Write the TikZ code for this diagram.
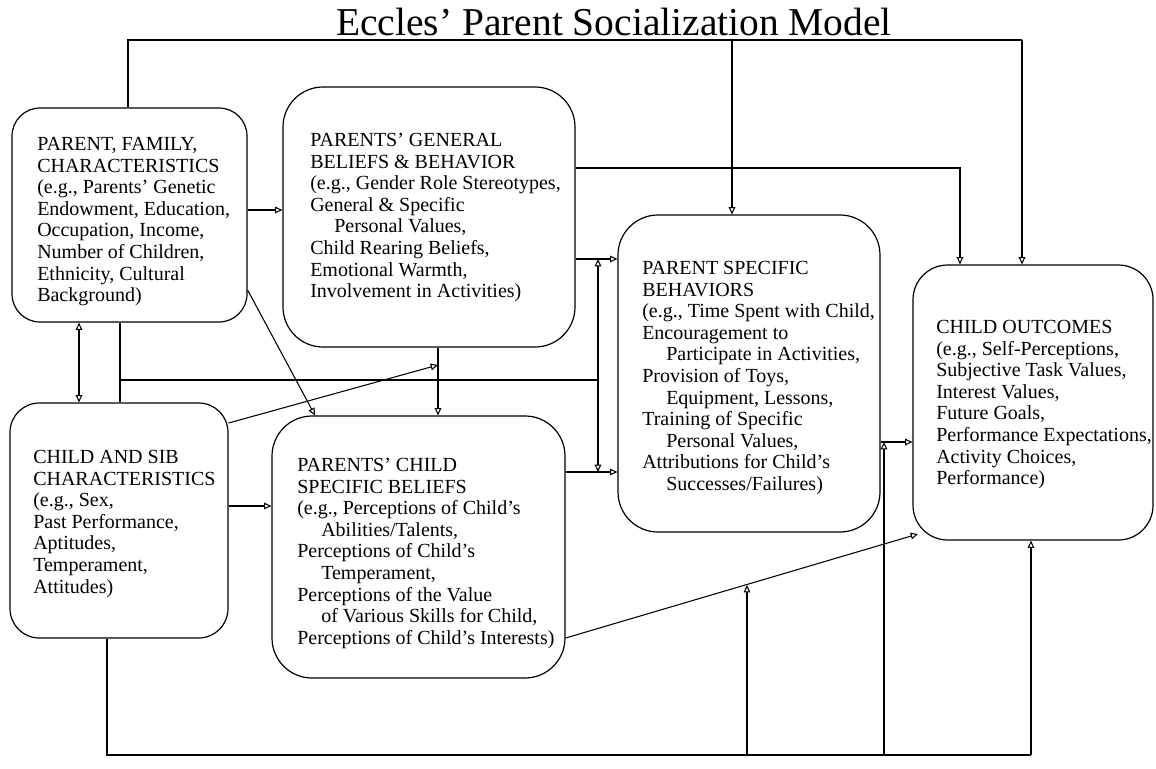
\documentclass[tikz,border=0pt]{standalone}
\usepackage{fontspec}
\setmainfont{Liberation Serif}
\usetikzlibrary{arrows.meta,fit}
\newcommand\myind{\hspace*{18pt}}
\begin{document}
\begin{tikzpicture}[x=0.75pt,y=-0.75pt,
  box/.style={draw, line width=0.9pt, inner sep=0pt},
  txt/.style={anchor=north west, align=left, inner sep=0pt, font=\fontsize{15}{16.2}\selectfont},
  conn/.style={line width=0.8pt},
  arr/.style={conn, -{Triangle[open,length=5.5pt,width=5pt]}},
  darr/.style={conn, {Triangle[open,length=5.5pt,width=5pt]}-{Triangle[open,length=5.5pt,width=5pt]}}
]
\useasboundingbox (0,0) rectangle (1156,768);

% title
\node[anchor=base, font=\fontsize{29.6}{32}\selectfont, inner sep=0pt] (title) at (614,35) {Eccles’ Parent Socialization Model};

% boxes
\node[box, rounded corners=21pt, fit={(12,108) (247,322)}] (A) {};
\node[box, rounded corners=30pt, fit={(283,87) (575,347)}] (PGB) {};
\node[box, rounded corners=22pt, fit={(10,403) (228,638)}] (CSB) {};
\node[box, rounded corners=30pt, fit={(272,416) (565,678)}] (PCSB) {};
\node[box, rounded corners=30pt, fit={(618,215) (880,532)}] (PSB) {};
\node[box, rounded corners=26pt, fit={(913,265) (1153,540)}] (CO) {};

% texts
\node[txt] (At) at (37,137) {PARENT, FAMILY,\\CHARACTERISTICS\\(e.g., Parents’ Genetic\\Endowment, Education,\\Occupation, Income,\\Number of Children,\\Ethnicity, Cultural\\Background)};
\node[txt] (PGBt) at (310,133) {PARENTS’ GENERAL\\BELIEFS \& BEHAVIOR\\(e.g., Gender Role Stereotypes,\\General \& Specific\\\myind Personal Values,\\Child Rearing Beliefs,\\Emotional Warmth,\\Involvement in Activities)};
\node[txt] (CSBt) at (33,450) {CHILD AND SIB\\CHARACTERISTICS\\(e.g., Sex,\\Past Performance,\\Aptitudes,\\Temperament,\\Attitudes)};
\node[txt] (PCSBt) at (297,458) {PARENTS’ CHILD\\SPECIFIC BELIEFS\\(e.g., Perceptions of Child’s\\\myind Abilities/Talents,\\Perceptions of Child’s\\\myind Temperament,\\Perceptions of the Value\\\myind of Various Skills for Child,\\Perceptions of Child’s Interests)};
\node[txt] (PSBt) at (642,261) {PARENT SPECIFIC\\BEHAVIORS\\(e.g., Time Spent with Child,\\Encouragement to\\\myind Participate in Activities,\\Provision of Toys,\\\myind Equipment, Lessons,\\Training of Specific\\\myind Personal Values,\\Attributions for Child’s\\\myind Successes/Failures)};
\node[txt] (COt) at (936,320) {CHILD OUTCOMES\\(e.g., Self-Perceptions,\\Subjective Task Values,\\Interest Values,\\Future Goals,\\Performance Expectations,\\Activity Choices,\\Performance)};

% coordinates
\coordinate (tl) at (128,40);
\coordinate (tr) at (1022,40);
\coordinate (tm) at (732,40);
\coordinate (pr) at (960,168);
\coordinate (ap) at (0,210);
\coordinate (ac) at (79,0);
\coordinate (jl) at (120,380);
\coordinate (jr) at (598,380);
\coordinate (y1) at (0,259);
\coordinate (y2) at (0,472);
\coordinate (ad) at (0,290);
\coordinate (pc1) at (315,0);
\coordinate (gv) at (438,365);
\coordinate (cd) at (0,423);
\coordinate (cp) at (0,506);
\coordinate (so) at (0,442);
\coordinate (pd) at (0,638);
\coordinate (coin) at (918,534);
\coordinate (bl) at (107,755);
\coordinate (br) at (1031,755);
\coordinate (b1) at (747,755);
\coordinate (b1t) at (747,585);
\coordinate (b2) at (884,755);

% connectors
\draw[conn] (tl |- A.north) -- (tl) -- (tr);
\draw[arr] (tr) -- (tr |- CO.north);
\draw[arr] (tm) -- (tm |- PSB.north);
\draw[arr] (pr -| PGB.east) -- (pr) -- (pr |- CO.north);
\draw[arr] (ap -| A.east) -- (ap -| PGB.west);
\draw[darr] (ac |- A.south) -- (ac |- CSB.north);
\draw[conn] (jl |- A.south) -- (jl |- CSB.north);
\draw[conn] (jl) -- (jr);
\draw[arr] (jr) -- (jr |- y1);
\draw[arr] (jr) -- (jr |- y2);
\draw[arr] (y1 -| PGB.east) -- (y1 -| PSB.west);
\draw[arr] (y2 -| PCSB.east) -- (y2 -| PSB.west);
\draw[arr] (ad -| A.east) -- (pc1 |- PCSB.north);
\draw[arr] (gv |- PGB.south) -- (gv |- PCSB.north);
\draw[arr] (cd -| CSB.east) -- (gv);
\draw[arr] (cp -| CSB.east) -- (cp -| PCSB.west);
\draw[arr] (so -| PSB.east) -- (so -| CO.west);
\draw[arr] (pd -| PCSB.east) -- (coin);
\draw[conn] (bl |- CSB.south) -- (bl) -- (br);
\draw[arr] (br) -- (br |- CO.south);
\draw[arr] (b1) -- (b1t);
\draw[arr] (b2) -- (b2 |- so);
\end{tikzpicture}
\end{document}
